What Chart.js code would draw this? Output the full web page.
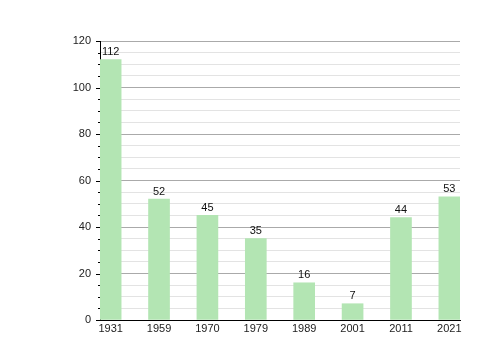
<!DOCTYPE html>
<html>
<head>
<meta charset="utf-8">
<script src="https://cdn.jsdelivr.net/npm/chart.js@4"></script>
<style>
html,body{margin:0;padding:0;background:#fff;}
#wrap{width:500px;height:360px;}
</style>
</head>
<body>
<div id="wrap"><canvas id="c" width="500" height="360"></canvas></div>
<script>
const categories = ['1931','1959','1970','1979','1989','2001','2011','2021'];
const values = [112, 52, 45, 35, 16, 7, 44, 53];
const yTicksMajor = [0, 20, 40, 60, 80, 100, 120];

const FONT = "'Liberation Sans', Arial, Helvetica, sans-serif";

const minorTicks = {
  id: 'minorTicks',
  afterDraw(chart) {
    const y = chart.scales.y;
    const ctx = chart.ctx;
    ctx.save();
    ctx.strokeStyle = '#000';
    ctx.lineWidth = 1;
    y.ticks.forEach(t => {
      const py = Math.round(y.getPixelForValue(t.value)) + 0.5;
      const len = (t.value % 20 === 0) ? 4 : 2;
      ctx.beginPath();
      ctx.moveTo(y.right - len, py);
      ctx.lineTo(y.right, py);
      ctx.stroke();
    });
    ctx.restore();
  }
};

const barLabels = {
  id: 'barLabels',
  afterDatasetsDraw(chart) {
    const ctx = chart.ctx;
    const meta = chart.getDatasetMeta(0);
    ctx.save();
    ctx.fillStyle = '#111';
    ctx.font = '11px ' + FONT;
    ctx.textAlign = 'center';
    ctx.textBaseline = 'bottom';
    meta.data.forEach((bar, i) => {
      ctx.fillText(String(values[i]), bar.x, bar.y - 2);
    });
    ctx.restore();
  }
};

new Chart(document.getElementById('c'), {
  type: 'bar',
  data: {
    datasets: [{
      data: values.map((v, i) => ({x: i, y: v})),
      backgroundColor: '#b3e5b3',
      borderWidth: 0,
      barThickness: 21
    }]
  },
  options: {
    responsive: false,
    animation: false,
    events: [],
    layout: {padding: {left: 0, right: 40, top: 41, bottom: 0}},
    plugins: {legend: {display: false}, tooltip: {enabled: false}},
    scales: {
      x: {
        type: 'linear',
        offset: false,
        min: -0.22,
        max: 7.22,
        afterBuildTicks(scale) {
          scale.ticks = categories.map((_, i) => ({value: i}));
        },
        afterFit(scale) { scale.height = 40; },
        grid: {display: false, drawTicks: false, offset: false},
        border: {display: true, color: '#000', width: 1},
        ticks: {
          autoSkip: false,
          maxRotation: 0,
          padding: 2,
          color: '#222',
          font: {family: FONT, size: 11},
          callback: (v) => categories[v] !== undefined ? categories[v] : ''
        }
      },
      y: {
        type: 'linear',
        min: 0,
        max: 120,
        afterFit(scale) { scale.width = 100; },
        grid: {
          drawTicks: false,
          color: (c) => (c.tick && c.tick.value % 20 === 0) ? '#aaaaaa' : '#e3e3e3',
          lineWidth: 1
        },
        border: {display: true, color: '#000', width: 1},
        ticks: {
          stepSize: 5,
          autoSkip: false,
          padding: 9,
          color: '#222',
          font: {family: FONT, size: 11},
          callback: (v) => yTicksMajor.includes(v) ? String(v) : ''
        }
      }
    }
  },
  plugins: [minorTicks, barLabels]
});
</script>
</body>
</html>
